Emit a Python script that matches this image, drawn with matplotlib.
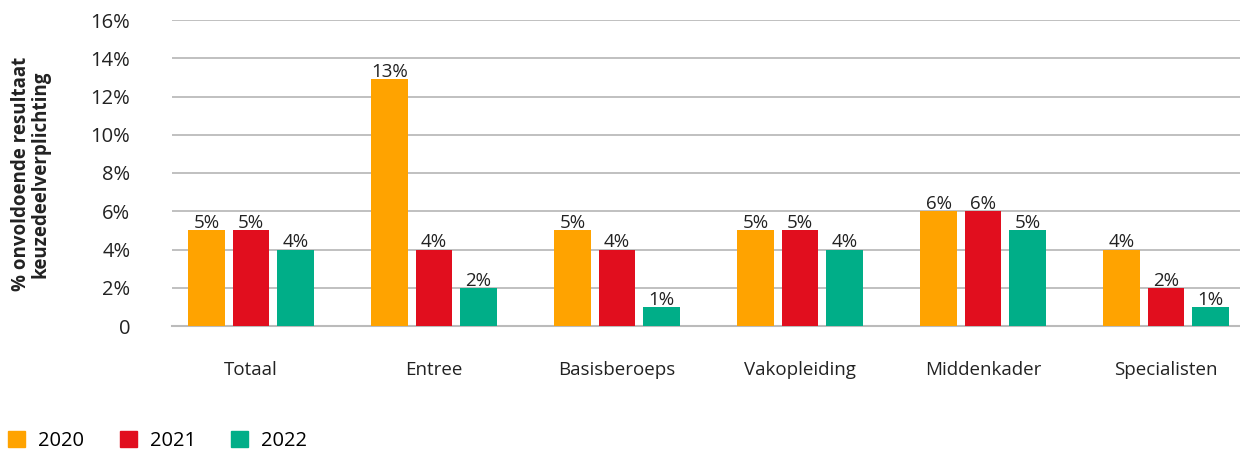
import matplotlib.pyplot as plt
from matplotlib.patches import Patch
from matplotlib.ticker import FuncFormatter
import numpy as np

plt.rcParams['font.family'] = ['Open Sans', 'DejaVu Sans']

categories = ["Totaal", "Entree", "Basisberoeps", "Vakopleiding", "Middenkader", "Specialisten"]
years = ["2020", "2021", "2022"]
v2020 = [5, 12.9, 5, 5, 6, 4]
v2021 = [5, 4, 4, 5, 6, 2]
v2022 = [4, 2, 1, 4, 5, 1]
colors = ["#FFA300", "#E10E1E", "#00AE88"]

fig = plt.figure(figsize=(12.4, 4.53), dpi=100)
ax = fig.add_axes([172 / 1240, 1 - 326 / 453, 1 - 172 / 1240, 306 / 453])

x = np.arange(len(categories))
width = 0.202
offset = 0.243
for i, (vals, c) in enumerate(zip([v2020, v2021, v2022], colors)):
    bars = ax.bar(x + (i - 1) * offset, vals, width, color=c, zorder=3)
    for b, v in zip(bars, vals):
        ax.text(b.get_x() + b.get_width() / 2, v - 0.1, f"{round(v)}%",
                ha="center", va="bottom", fontsize=13.5, color="#222222", zorder=4)

ax.set_ylim(0, 16)
ax.set_yticks(np.arange(0, 17, 2))
ax.yaxis.set_major_formatter(FuncFormatter(lambda v, p: "0" if v == 0 else f"{int(v)}%"))
ax.set_xlim((172 - 251) / 183, (1240 - 251) / 183)
ax.set_xticks(x)
ax.set_xticklabels(categories)
ax.tick_params(axis="x", length=0, pad=25, labelsize=13.5, labelcolor="#222222")
ax.tick_params(axis="y", length=0, pad=30, labelsize=14.5, labelcolor="#222222")

ax.grid(axis="y", color="#BBBBBB", linewidth=1.3, zorder=0)
for s in ["top", "right", "left"]:
    ax.spines[s].set_visible(False)
ax.spines["bottom"].set_color("#BBBBBB")
ax.spines["bottom"].set_linewidth(1.5)

fig.text(31 / 1240, 1 - 174 / 453, "% onvoldoende resultaat\nkeuzedeelverplichting",
         rotation=90, ha="center", va="center", fontsize=13.5, fontweight="bold",
         color="#222222", linespacing=1.0)

handles = [Patch(color=c) for c in colors]
fig.legend(handles, years, loc="lower left", bbox_to_anchor=(-0.004, -0.025), ncol=3,
           frameon=False, fontsize=14.5, handlelength=0.85, handleheight=0.85,
           handletextpad=0.65, columnspacing=1.75, borderaxespad=0.25)

fig.savefig("out.png", dpi=100)
